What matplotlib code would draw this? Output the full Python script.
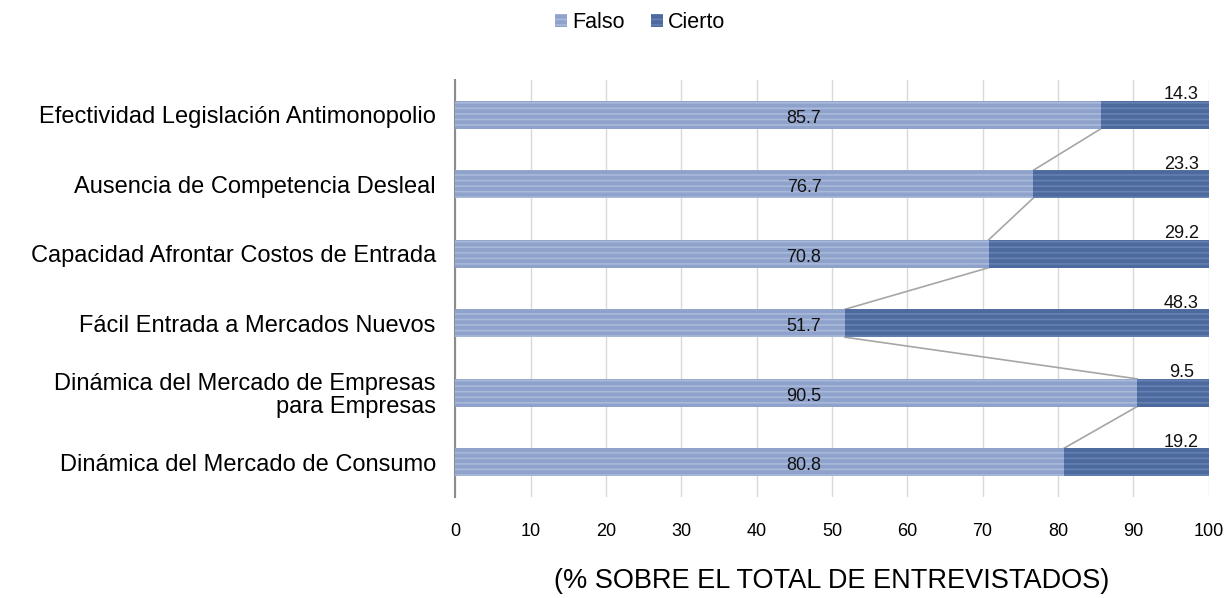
import matplotlib.pyplot as plt
import numpy as np

plt.rcParams['font.family'] = ['Liberation Sans', 'DejaVu Sans']

# Data
categories = [
    'Efectividad Legislación Antimonopolio',
    'Ausencia de Competencia Desleal',
    'Capacidad Afrontar Costos de Entrada',
    'Fácil Entrada a Mercados Nuevos',
    'Dinámica del Mercado de Empresas\npara Empresas',
    'Dinámica del Mercado de Consumo',
]
falso = [85.7, 76.7, 70.8, 51.7, 90.5, 80.8]
cierto = [14.3, 23.3, 29.2, 48.3, 9.5, 19.2]
xticks = [0, 10, 20, 30, 40, 50, 60, 70, 80, 90, 100]

c_falso = '#8fa2cb'
c_cierto = '#4d6a9f'

fig = plt.figure(figsize=(12.27, 5.98), dpi=100)
ax = fig.add_axes([0.371, 0.169, 0.614, 0.697])

y = np.arange(len(categories))
h = 0.4

plt.rcParams['hatch.linewidth'] = 1.2
b1 = ax.barh(y, falso, height=h, color=c_falso, edgecolor='#a9b9d9', linewidth=0,
             hatch='---', label='Falso', zorder=3)
b2 = ax.barh(y, cierto, left=falso, height=h, color=c_cierto, edgecolor='#6580b2',
             linewidth=0, hatch='---', label='Cierto', zorder=3)

# series lines between bars
for i in range(len(falso) - 1):
    ax.plot([falso[i], falso[i + 1]], [y[i] + h / 2, y[i + 1] - h / 2],
            color='#a6a6a6', lw=1.2, zorder=2)

# value labels
for i in range(len(falso)):
    ax.text(46.3, y[i] + 0.05, f'{falso[i]:.1f}', ha='center', va='center',
            fontsize=13, color='#111111', zorder=4)
    ax.text(96.4, y[i] - h / 2 - 0.09, f'{cierto[i]:.1f}', ha='center', va='center',
            fontsize=13, color='#111111', zorder=4)

ax.set_xlim(0, 100)
ax.set_ylim(len(categories) - 0.5, -0.5)
ax.set_xticks(xticks)
ax.set_xticklabels([str(t) for t in xticks], fontsize=13)
ax.set_yticks(y)
ax.set_yticklabels(categories, fontsize=17, multialignment='right', linespacing=1.05)
ax.tick_params(axis='y', length=0, pad=14)
ax.tick_params(axis='x', length=0, pad=19)
ax.grid(axis='x', color='#d9d9d9', lw=1, zorder=0)
for s in ['top', 'right', 'bottom']:
    ax.spines[s].set_visible(False)
ax.spines['left'].set_color('#8c8c8c')
ax.spines['left'].set_linewidth(1.5)

ax.set_xlabel('(% SOBRE EL TOTAL DE ENTREVISTADOS)', fontsize=19.5, labelpad=20)

fig.legend(handles=[b1, b2], loc='center', bbox_to_anchor=(0.522, 0.962), ncol=2,
           frameon=False, fontsize=15.5, handlelength=0.55, handleheight=0.55,
           handletextpad=0.25, columnspacing=1.2)

fig.savefig('out.png', dpi=100)
